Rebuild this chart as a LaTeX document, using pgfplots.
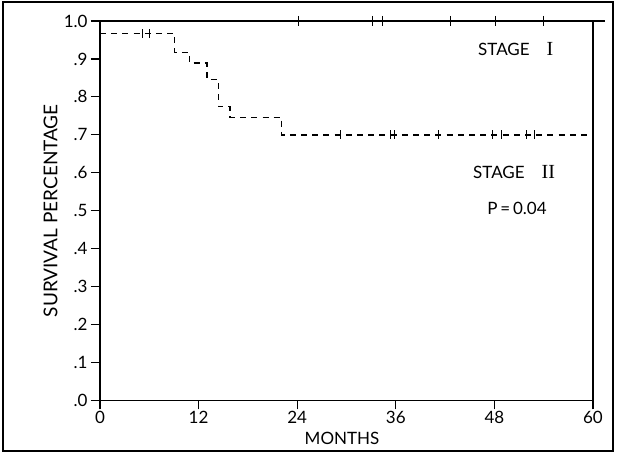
\documentclass[border=0pt]{standalone}
\usepackage{fontspec}
\setmainfont{Lato}
\newfontfamily\romfont{Liberation Serif}
\usepackage{pgfplots}
\pgfplotsset{compat=1.18}

\begin{document}
\begin{tikzpicture}
\begin{axis}[
    scale only axis,
    width=246.5pt, height=189.75pt,
    xmin=0, xmax=60, ymin=0, ymax=1,
    xtick={0,12,24,36,48,60},
    ytick={0,0.1,0.2,0.3,0.4,0.5,0.6,0.7,0.8,0.9,1.0},
    yticklabels={.0,.1,.2,.3,.4,.5,.6,.7,.8,.9,1.0},
    tick align=outside,
    xtick pos=bottom, ytick pos=left,
    major tick length=4.5pt,
    axis line style={line width=0.7pt},
    tick style={line width=0.6pt, black},
    font=\fontsize{8.5}{10}\selectfont,
    yticklabel style={xshift=1.8pt},
    xticklabel style={yshift=2.5pt},
    /pgf/number format/assume math mode=true,
    xlabel={MONTHS},
    ylabel={SURVIVAL PERCENTAGE},
    xlabel style={at={(rel axis cs:0.491,-0.0988)}, anchor=center},
    ylabel style={at={(rel axis cs:-0.1,0.5)}, anchor=center, font=\fontsize{9.5}{10}\selectfont},
    clip=false,
]
% stage II (dashed step curve)
\addplot[const plot, black, line width=0.7pt, dash pattern=on 3pt off 2.6pt] coordinates {
    (0,0.967) (9.1,0.917) (10.9,0.889) (13.0,0.846) (14.4,0.774) (15.8,0.746) (22.1,0.700) (60,0.700)
};
% stage I (no events)
\addplot[black, line width=0.9pt] coordinates {(0,1) (61.5,1)};
% censored cases
\addplot[only marks, mark=|, mark size=2.5pt, mark options={line width=0.5pt}] coordinates {
    (24.1,1) (33.2,1) (34.4,1) (42.7,1) (48.1,1) (54.0,1)
};
\addplot[only marks, mark=|, mark size=2.2pt, mark options={line width=0.5pt}] coordinates {
    (5.2,0.967) (6.0,0.967)
    (29.3,0.70) (35.3,0.70) (35.9,0.70) (41.2,0.70) (47.8,0.70) (48.9,0.70) (51.9,0.70) (52.9,0.70) (60,0.70)
};
\node at (axis cs:50.6,0.926) {STAGE\quad{\romfont\fontsize{10}{10}\selectfont I}};
\node at (axis cs:50.4,0.602) {STAGE\quad{\romfont\fontsize{10}{10}\selectfont II}};
\node at (axis cs:50.75,0.505) {P\,=\,0.04};
\draw[line width=0.6pt] (rel axis cs:-0.1968,1.0501) rectangle (rel axis cs:1.0406,-0.1331);
\coordinate (bbA) at (rel axis cs:-0.2028,1.0553);
\coordinate (bbB) at (rel axis cs:1.0487,-0.1436);
\end{axis}
\pgfresetboundingbox
\path[use as bounding box] (bbA) rectangle (bbB);
\end{tikzpicture}
\end{document}
